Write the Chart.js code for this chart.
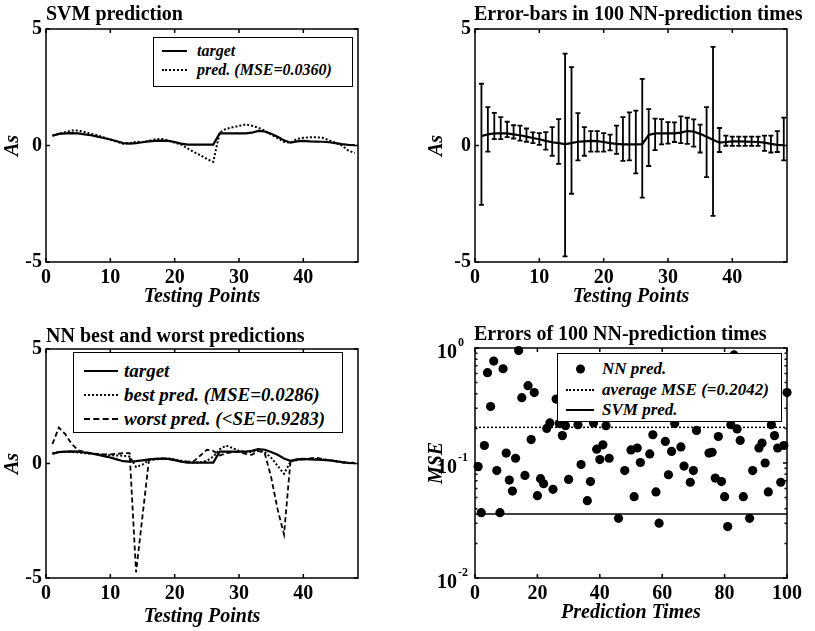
<!DOCTYPE html>
<html>
<head>
<meta charset="utf-8">
<script src="https://cdn.jsdelivr.net/npm/chart.js@4.4.0/dist/chart.umd.min.js"></script>
<style>
  body { margin: 0; background: #fff; width: 815px; height: 631px; position: relative; overflow: hidden;
         font-family: 'Liberation Serif', 'Times New Roman', serif; color: #000; }
  canvas { position: absolute; }
  .title { position: absolute; font-size: 20px; font-weight: bold; white-space: nowrap; line-height: 20px; }
  .legend { position: absolute; background: #fff; border: 1.5px solid #000; box-sizing: border-box;
            font-style: italic; font-weight: bold; z-index: 2; }
  .row { position: absolute; left: 0; white-space: nowrap; height: 0; }
  .row span { position: absolute; top: 0; transform: translateY(-50%); }
  .sample { display: block; height: 0; }
  .dot { display: block; width: 9px; height: 9px; border-radius: 50%; background: #000; }
</style>
</head>
<body>

<canvas id="svmChart" width="405" height="312" style="left:0;top:0"></canvas>
<canvas id="errChart" width="405" height="312" style="left:410px;top:0"></canvas>
<canvas id="nnChart" width="405" height="313" style="left:0;top:318px"></canvas>
<canvas id="mseChart" width="405" height="313" style="left:410px;top:318px"></canvas>

<div class="title" style="left:46px;top:3px">SVM prediction</div>
<div class="title" style="left:474px;top:3px">Error-bars in 100 NN-prediction times</div>
<div class="title" style="left:46px;top:325px">NN best and worst predictions</div>
<div class="title" style="left:474px;top:323px">Errors of 100 NN-prediction times</div>

<div class="legend" style="left:153px;top:37px;width:200px;height:50px;font-size:16px">
  <div class="row" style="top:13px"><span class="sample" style="left:8px;width:25px;border-top:2px solid #000"></span><span style="left:43px">target</span></div>
  <div class="row" style="top:32px"><span class="sample" style="left:8px;width:25px;border-top:2px dotted #000"></span><span style="left:43px">pred. (MSE=0.0360)</span></div>
</div>

<div class="legend" style="left:73px;top:352px;width:270px;height:81px;font-size:19px">
  <div class="row" style="top:18px"><span class="sample" style="left:10px;width:34px;border-top:2px solid #000"></span><span style="left:50px">target</span></div>
  <div class="row" style="top:42px"><span class="sample" style="left:10px;width:34px;border-top:2px dotted #000"></span><span style="left:50px">best pred. (MSE=0.0286)</span></div>
  <div class="row" style="top:66px"><span class="sample" style="left:10px;width:34px;border-top:2px dashed #000"></span><span style="left:50px">worst pred. (&lt;SE=0.9283)</span></div>
</div>

<div class="legend" style="left:557px;top:353px;width:225px;height:69px;font-size:17px">
  <div class="row" style="top:15px"><span class="dot" style="left:18px"></span><span style="left:44px">NN pred.</span></div>
  <div class="row" style="top:36px"><span class="sample" style="left:8px;width:28px;border-top:2px dotted #000"></span><span style="left:44px">average MSE (=0.2042)</span></div>
  <div class="row" style="top:56px"><span class="sample" style="left:8px;width:28px;border-top:2px solid #000"></span><span style="left:44px">SVM pred.</span></div>
</div>

<script>
const FONT = "'Liberation Serif', 'Times New Roman', serif";

// testing points 1..48
const testPoints = [1, 2, 3, 4, 5, 6, 7, 8, 9, 10, 11, 12, 13, 14, 15, 16, 17, 18, 19, 20, 21, 22, 23, 24,
    25, 26, 27, 28, 29, 30, 31, 32, 33, 34, 35, 36, 37, 38, 39, 40, 41, 42, 43, 44, 45, 46, 47, 48];

const target = [0.42, 0.50, 0.52, 0.53, 0.52, 0.48, 0.44, 0.38, 0.32, 0.26, 0.18, 0.10, 0.08, 0.10, 0.14, 0.18,
    0.20, 0.21, 0.20, 0.15, 0.08, 0.04, 0.04, 0.04, 0.04, 0.04, 0.52, 0.52, 0.52, 0.52, 0.52, 0.55,
    0.63, 0.60, 0.50, 0.38, 0.22, 0.12, 0.18, 0.20, 0.18, 0.17, 0.16, 0.14, 0.10, 0.06, 0.03, 0.02];

const svmPred = [0.42, 0.50, 0.58, 0.64, 0.64, 0.58, 0.50, 0.44, 0.34, 0.26, 0.16, 0.08, 0.10, 0.16, 0.15, 0.20,
    0.27, 0.28, 0.22, 0.12, 0.04, -0.12, -0.28, -0.42, -0.58, -0.70, 0.55, 0.72, 0.78, 0.84, 0.90, 0.85,
    0.76, 0.64, 0.48, 0.32, 0.15, 0.12, 0.28, 0.33, 0.35, 0.35, 0.33, 0.22, 0.12, 0.00, -0.22, -0.32];

// mean of the 100 NN runs and the error-bar ends
const nnMean = [0.40, 0.48, 0.52, 0.52, 0.52, 0.48, 0.44, 0.38, 0.32, 0.27, 0.20, 0.14, 0.10, 0.06, 0.10, 0.16,
    0.18, 0.20, 0.19, 0.15, 0.10, 0.07, 0.05, 0.05, 0.05, 0.06, 0.45, 0.52, 0.52, 0.52, 0.52, 0.55,
    0.62, 0.60, 0.50, 0.38, 0.25, 0.12, 0.15, 0.18, 0.18, 0.17, 0.16, 0.15, 0.12, 0.07, 0.03, 0.01];
const errUpper = [2.65, 1.65, 1.40, 1.22, 1.02, 0.87, 0.85, 0.73, 0.56, 0.53, 0.57, 0.79, 1.13, 3.94, 3.36, 1.39,
    0.79, 0.62, 0.62, 0.53, 0.47, 0.85, 1.22, 1.42, 1.50, 2.86, 1.56, 1.15, 1.13, 1.00, 0.99, 1.25,
    1.19, 1.12, 0.90, 1.65, 4.23, 0.75, 0.42, 0.38, 0.38, 0.38, 0.38, 0.38, 0.42, 0.42, 0.62, 1.20];
const errLower = [-2.55, -0.26, 0.27, 0.27, 0.36, 0.30, 0.21, 0.16, 0.10, 0.03, -0.18, -0.44, -0.79, -4.76, -2.07, -0.64,
    -0.44, -0.26, -0.26, -0.26, -0.21, -0.36, -0.66, -0.64, -1.20, -2.24, -0.88, -0.20, 0.05, 0.08, 0.15, 0.10,
    0.07, -0.05, -0.30, -1.36, -3.02, -0.28, -0.01, -0.02, -0.02, -0.02, -0.02, -0.02, -0.23, -0.30, -0.28, -0.64];

const bestPred = [0.45, 0.50, 0.50, 0.50, 0.48, 0.45, 0.42, 0.40, 0.38, 0.36, 0.35, 0.34, 0.30, -0.15, -0.05, 0.15,
    0.18, 0.20, 0.22, 0.18, 0.12, 0.06, 0.04, 0.05, 0.12, 0.30, 0.62, 0.78, 0.68, 0.55, 0.50, 0.50,
    0.58, 0.50, 0.25, -0.10, -0.45, 0.08, 0.15, 0.18, 0.20, 0.20, 0.18, 0.15, 0.10, 0.06, 0.02, 0.04];
const worstPred = [0.85, 1.57, 1.28, 0.85, 0.58, 0.50, 0.45, 0.42, 0.40, 0.40, 0.42, 0.45, 0.45, -4.75, -2.30, 0.15,
    0.20, 0.22, 0.20, 0.15, 0.10, 0.08, 0.10, 0.35, 0.60, 0.55, 0.35, 0.45, 0.50, 0.50, 0.42, 0.38,
    0.55, 0.45, -0.60, -2.00, -3.10, 0.10, 0.15, 0.18, 0.22, 0.25, 0.20, 0.15, 0.10, 0.05, 0.00, 0.05];

// prediction times 1..100 and their MSE
const predTimes = [1, 2, 3, 4, 5, 6, 7, 8, 9, 10, 11, 12, 13, 14, 15, 16, 17, 18, 19, 20, 21, 22, 23, 24, 25,
    26, 27, 28, 29, 30, 31, 32, 33, 34, 35, 36, 37, 38, 39, 40, 41, 42, 43, 44, 45, 46, 47, 48, 49, 50,
    51, 52, 53, 54, 55, 56, 57, 58, 59, 60, 61, 62, 63, 64, 65, 66, 67, 68, 69, 70, 71, 72, 73, 74, 75,
    76, 77, 78, 79, 80, 81, 82, 83, 84, 85, 86, 87, 88, 89, 90, 91, 92, 93, 94, 95, 96, 97, 98, 99, 100];
const nnMse = [0.093, 0.037, 0.142, 0.61, 0.31, 0.77, 0.086, 0.037, 0.66, 0.122,
    0.071, 0.057, 0.110, 0.95, 0.37, 0.078, 0.47, 0.160, 0.41, 0.052,
    0.073, 0.066, 0.20, 0.223, 0.059, 0.36, 0.22, 0.173, 0.211, 0.072,
    0.45, 0.30, 0.215, 0.097, 0.35, 0.047, 0.069, 0.223, 0.132, 0.107,
    0.144, 0.211, 0.110, 0.50, 0.28, 0.033, 0.62, 0.086, 0.33, 0.13,
    0.051, 0.135, 0.101, 0.40, 0.26, 0.12, 0.176, 0.056, 0.030, 0.30,
    0.154, 0.079, 0.126, 0.22, 0.55, 0.138, 0.094, 0.26, 0.068, 0.086,
    0.192, 0.40, 0.28, 0.70, 0.122, 0.124, 0.074, 0.17, 0.069, 0.051,
    0.028, 0.215, 0.87, 0.198, 0.157, 0.051, 0.32, 0.033, 0.086, 0.35,
    0.135, 0.149, 0.10, 0.056, 0.215, 0.173, 0.135, 0.068, 0.142, 0.41];
const avgMse = 0.2042;
const svmMse = 0.0360;

const asTicks = [-5, 0, 5];
const pointTicks = [0, 10, 20, 30, 40];
const timeTicks = [0, 20, 40, 60, 80, 100];
const mseTicks = [0.01, 0.1, 1];
const mseMinor = [0.02, 0.03, 0.04, 0.05, 0.06, 0.07, 0.08, 0.09, 0.2, 0.3, 0.4, 0.5, 0.6, 0.7, 0.8, 0.9];

const toXY = (xs, ys) => xs.map((x, i) => ({ x: x, y: ys[i] }));

// box + inward ticks, matlab style
function framePlugin(minorY) {
    return {
        id: 'frame',
        afterDatasetsDraw(chart) {
            const { ctx, chartArea: a, scales: { x, y } } = chart;
            ctx.save();
            ctx.strokeStyle = '#000';
            ctx.lineWidth = 1.5;
            ctx.strokeRect(a.left, a.top, a.right - a.left, a.bottom - a.top);
            ctx.beginPath();
            x.ticks.forEach(t => {
                const px = x.getPixelForValue(t.value);
                ctx.moveTo(px, a.bottom); ctx.lineTo(px, a.bottom - 4);
                ctx.moveTo(px, a.top); ctx.lineTo(px, a.top + 4);
            });
            y.ticks.forEach(t => {
                const py = y.getPixelForValue(t.value);
                ctx.moveTo(a.left, py); ctx.lineTo(a.left + 4, py);
                ctx.moveTo(a.right, py); ctx.lineTo(a.right - 4, py);
            });
            (minorY || []).forEach(v => {
                const py = y.getPixelForValue(v);
                ctx.moveTo(a.left, py); ctx.lineTo(a.left + 2.5, py);
                ctx.moveTo(a.right, py); ctx.lineTo(a.right - 2.5, py);
            });
            ctx.stroke();
            ctx.restore();
        }
    };
}

function errorBarPlugin(xs, upper, lower) {
    return {
        id: 'errorBars',
        afterDatasetsDraw(chart) {
            const { ctx, scales: { x, y } } = chart;
            ctx.save();
            ctx.strokeStyle = '#000';
            ctx.lineWidth = 1.8;
            ctx.beginPath();
            xs.forEach((xv, i) => {
                const px = x.getPixelForValue(xv);
                const top = y.getPixelForValue(upper[i]);
                const bot = y.getPixelForValue(lower[i]);
                ctx.moveTo(px, top); ctx.lineTo(px, bot);
                ctx.moveTo(px - 2.5, top); ctx.lineTo(px + 2.5, top);
                ctx.moveTo(px - 2.5, bot); ctx.lineTo(px + 2.5, bot);
            });
            ctx.stroke();
            ctx.restore();
        }
    };
}

// "10" with a raised exponent for the log axis
function logLabelPlugin(ticks) {
    return {
        id: 'logLabels',
        afterDraw(chart) {
            const { ctx, chartArea: a, scales: { y } } = chart;
            ctx.save();
            ctx.fillStyle = '#000';
            ctx.textBaseline = 'middle';
            ticks.forEach(v => {
                const py = y.getPixelForValue(v);
                const exp = String(Math.round(Math.log10(v)));
                ctx.font = 'bold 20px ' + FONT;
                ctx.textAlign = 'right';
                ctx.fillText('10', a.left - 18, py + 5);
                ctx.font = 'bold 12px ' + FONT;
                ctx.textAlign = 'left';
                ctx.fillText(exp, a.left - 17, py - 5);
            });
            ctx.restore();
        }
    };
}

function makeOptions(p) {
    return {
        responsive: false,
        animation: false,
        events: [],
        layout: { padding: { left: 0, top: p.top, right: p.right, bottom: 0 } },
        elements: { point: { radius: 0 }, line: { tension: 0 } },
        plugins: {
            legend: { display: false },
            tooltip: { enabled: false }
        },
        scales: {
            x: {
                type: 'linear',
                min: p.xMin, max: p.xMax,
                afterBuildTicks: s => { s.ticks = p.xTicks.map(v => ({ value: v })); },
                afterFit: s => { s.height = p.xHeight; },
                grid: { display: false, drawTicks: false },
                border: { display: false },
                ticks: { color: '#000', padding: 4, autoSkip: false, maxRotation: 0,
                         font: { family: FONT, size: 20, weight: 'bold' } },
                title: { display: true, text: p.xTitle, color: '#000', padding: { top: 0, bottom: p.xTitlePad },
                         font: { family: FONT, size: 20, weight: 'bold', style: 'italic' } }
            },
            y: {
                type: p.yType || 'linear',
                min: p.yMin, max: p.yMax,
                afterBuildTicks: s => { s.ticks = p.yTicks.map(v => ({ value: v })); },
                afterFit: s => { s.width = p.yWidth; },
                grid: { display: false, drawTicks: false },
                border: { display: false },
                ticks: { display: p.yTickDisplay !== false, color: '#000', padding: 4, autoSkip: false,
                         font: { family: FONT, size: 20, weight: 'bold' } },
                title: { display: true, text: p.yTitle, color: '#000', padding: { top: p.yTitlePad, bottom: 0 },
                         font: { family: FONT, size: 20, weight: 'bold', style: 'italic' } }
            }
        }
    };
}

new Chart(document.getElementById('svmChart'), {
    type: 'line',
    data: {
        datasets: [
            { data: toXY(testPoints, target), borderColor: '#000', borderWidth: 2.2 },
            { data: toXY(testPoints, svmPred), borderColor: '#000', borderWidth: 2, borderDash: [2, 2] }
        ]
    },
    options: makeOptions({ top: 29, right: 47, xHeight: 50, yWidth: 46, xMin: 0, xMax: 48.5, yMin: -5, yMax: 5,
        xTicks: pointTicks, yTicks: asTicks, xTitle: 'Testing Points', yTitle: 'As', xTitlePad: 3, yTitlePad: 1 }),
    plugins: [framePlugin()]
});

new Chart(document.getElementById('errChart'), {
    type: 'line',
    data: {
        datasets: [
            { data: toXY(testPoints, nnMean), borderColor: '#000', borderWidth: 2.2 }
        ]
    },
    options: makeOptions({ top: 29, right: 28, xHeight: 50, yWidth: 65, xMin: 0, xMax: 48.5, yMin: -5, yMax: 5,
        xTicks: pointTicks, yTicks: asTicks, xTitle: 'Testing Points', yTitle: 'As', xTitlePad: 3, yTitlePad: 15 }),
    plugins: [framePlugin(), errorBarPlugin(testPoints, errUpper, errLower)]
});

new Chart(document.getElementById('nnChart'), {
    type: 'line',
    data: {
        datasets: [
            { data: toXY(testPoints, target), borderColor: '#000', borderWidth: 2.2 },
            { data: toXY(testPoints, bestPred), borderColor: '#000', borderWidth: 2, borderDash: [2, 2] },
            { data: toXY(testPoints, worstPred), borderColor: '#000', borderWidth: 1.8, borderDash: [5, 3] }
        ]
    },
    options: makeOptions({ top: 31, right: 47, xHeight: 53, yWidth: 46, xMin: 0, xMax: 48.5, yMin: -5, yMax: 5,
        xTicks: pointTicks, yTicks: asTicks, xTitle: 'Testing Points', yTitle: 'As', xTitlePad: 2, yTitlePad: 1 }),
    plugins: [framePlugin()]
});

new Chart(document.getElementById('mseChart'), {
    type: 'line',
    data: {
        datasets: [
            { data: toXY(predTimes, nnMse), showLine: false, pointRadius: 4.6, pointBackgroundColor: '#000',
              pointBorderWidth: 0, clip: false },
            { data: toXY([0, 100], [avgMse, avgMse]), borderColor: '#000', borderWidth: 1.5, borderDash: [2, 2] },
            { data: toXY([0, 100], [svmMse, svmMse]), borderColor: '#000', borderWidth: 1.5 }
        ]
    },
    options: makeOptions({ top: 30, right: 28, xHeight: 53, yWidth: 65, xMin: 0, xMax: 100, yMin: 0.01, yMax: 1,
        yType: 'logarithmic', yTickDisplay: false,
        xTicks: timeTicks, yTicks: mseTicks, xTitle: 'Prediction Times', yTitle: 'MSE', xTitlePad: 6, yTitlePad: 15 }),
    plugins: [framePlugin(mseMinor), logLabelPlugin(mseTicks)]
});
</script>
</body>
</html>
